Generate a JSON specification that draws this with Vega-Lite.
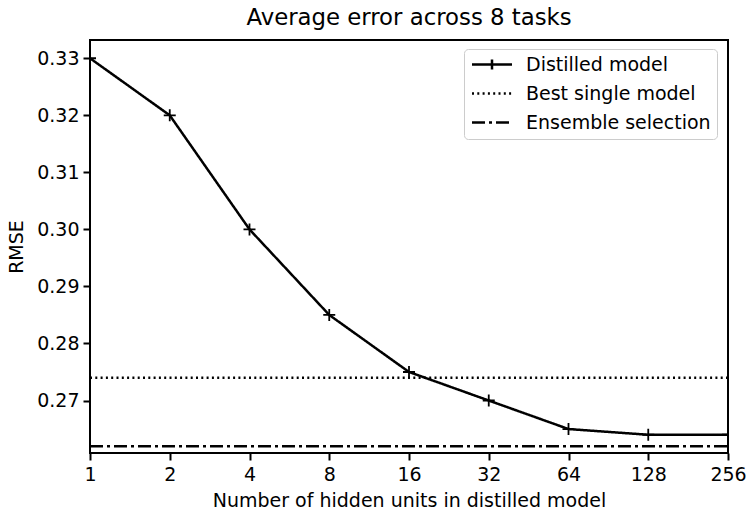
{
  "$schema": "https://vega.github.io/schema/vega-lite/v6.json",
  "autosize": {"type": "none"},
  "width": 638,
  "height": 413,
  "padding": {"left": 90, "top": 40, "right": 18, "bottom": 56},
  "background": "white",
  "config": {
    "font": "DejaVu Sans",
    "view": {"stroke": "black", "strokeWidth": 2},
    "axis": {"grid": false, "domain": false, "tickColor": "black", "tickWidth": 2, "tickSize": 7, "labelColor": "black", "labelFontSize": 19, "titleColor": "black", "titleFontSize": 19, "titleFontWeight": "normal", "labelFont": "DejaVu Sans", "titleFont": "DejaVu Sans"}
  },
  "title": {"text": "Average error across 8 tasks", "fontSize": 22.8, "fontWeight": "normal", "color": "black", "font": "DejaVu Sans", "anchor": "middle", "offset": 10},
  "data": {
    "values": [
      {"units": 1, "rmse": 0.33, "series": "Distilled model"},
      {"units": 2, "rmse": 0.32, "series": "Distilled model"},
      {"units": 4, "rmse": 0.30, "series": "Distilled model"},
      {"units": 8, "rmse": 0.285, "series": "Distilled model"},
      {"units": 16, "rmse": 0.275, "series": "Distilled model"},
      {"units": 32, "rmse": 0.27, "series": "Distilled model"},
      {"units": 64, "rmse": 0.265, "series": "Distilled model"},
      {"units": 128, "rmse": 0.264, "series": "Distilled model"},
      {"units": 256, "rmse": 0.264, "series": "Distilled model"},
      {"units": 1, "rmse": 0.274, "series": "Best single model"},
      {"units": 256, "rmse": 0.274, "series": "Best single model"},
      {"units": 1, "rmse": 0.262, "series": "Ensemble selection"},
      {"units": 256, "rmse": 0.262, "series": "Ensemble selection"}
    ]
  },
  "encoding": {
    "x": {
      "field": "units", "type": "quantitative",
      "scale": {"type": "log", "base": 2, "domain": [1, 256], "nice": false},
      "axis": {"values": [1, 2, 4, 8, 16, 32, 64, 128, 256], "format": "d", "title": "Number of hidden units in distilled model", "labelPadding": 5, "titlePadding": 7, "labelFlush": false}
    },
    "y": {
      "field": "rmse", "type": "quantitative",
      "scale": {"domain": [0.2608, 0.3332], "nice": false, "zero": false},
      "axis": {"values": [0.27, 0.28, 0.29, 0.30, 0.31, 0.32, 0.33], "format": ".2f", "title": "RMSE", "labelPadding": 4, "titlePadding": 10}
    }
  },
  "layer": [
    {
      "mark": {"type": "line", "stroke": "black", "strokeWidth": 2.5, "clip": true},
      "encoding": {
        "strokeDash": {
          "field": "series", "type": "nominal",
          "scale": {"domain": ["Distilled model", "Best single model", "Ensemble selection"], "range": [[1, 0], [2, 3.3], [13, 4, 3, 4]]},
          "legend": {
            "title": null,
            "orient": "none",
            "legendX": 374,
            "legendY": 9,
            "padding": 6,
            "fillColor": "rgba(255,255,255,0.8)",
            "strokeColor": "#cccccc",
            "cornerRadius": 4,
            "labelFontSize": 19,
            "labelColor": "black",
            "labelFont": "DejaVu Sans",
            "labelLimit": 0,
            "labelOffset": 37,
            "rowPadding": 9,
            "symbolSize": 225,
            "symbolStrokeWidth": 2.5,
            "symbolStrokeColor": "black",
            "symbolType": "stroke",
            "encode": {
              "symbols": {
                "update": {
                  "shape": {"signal": "datum.value === 'Distilled model' ? 'M-1,0L4.333,0M1.667,-0.667L1.667,0.667' : 'M-1,0L4.333,0'"},
                  "stroke": {"value": "black"}
                }
              }
            }
          }
        }
      }
    },
    {
      "transform": [{"filter": "datum.series === 'Distilled model'"}],
      "mark": {"type": "point", "shape": "M-1,0L1,0M0,-1L0,1", "size": 144, "filled": false, "stroke": "black", "strokeWidth": 1.8, "opacity": 1, "clip": true}
    }
  ]
}
